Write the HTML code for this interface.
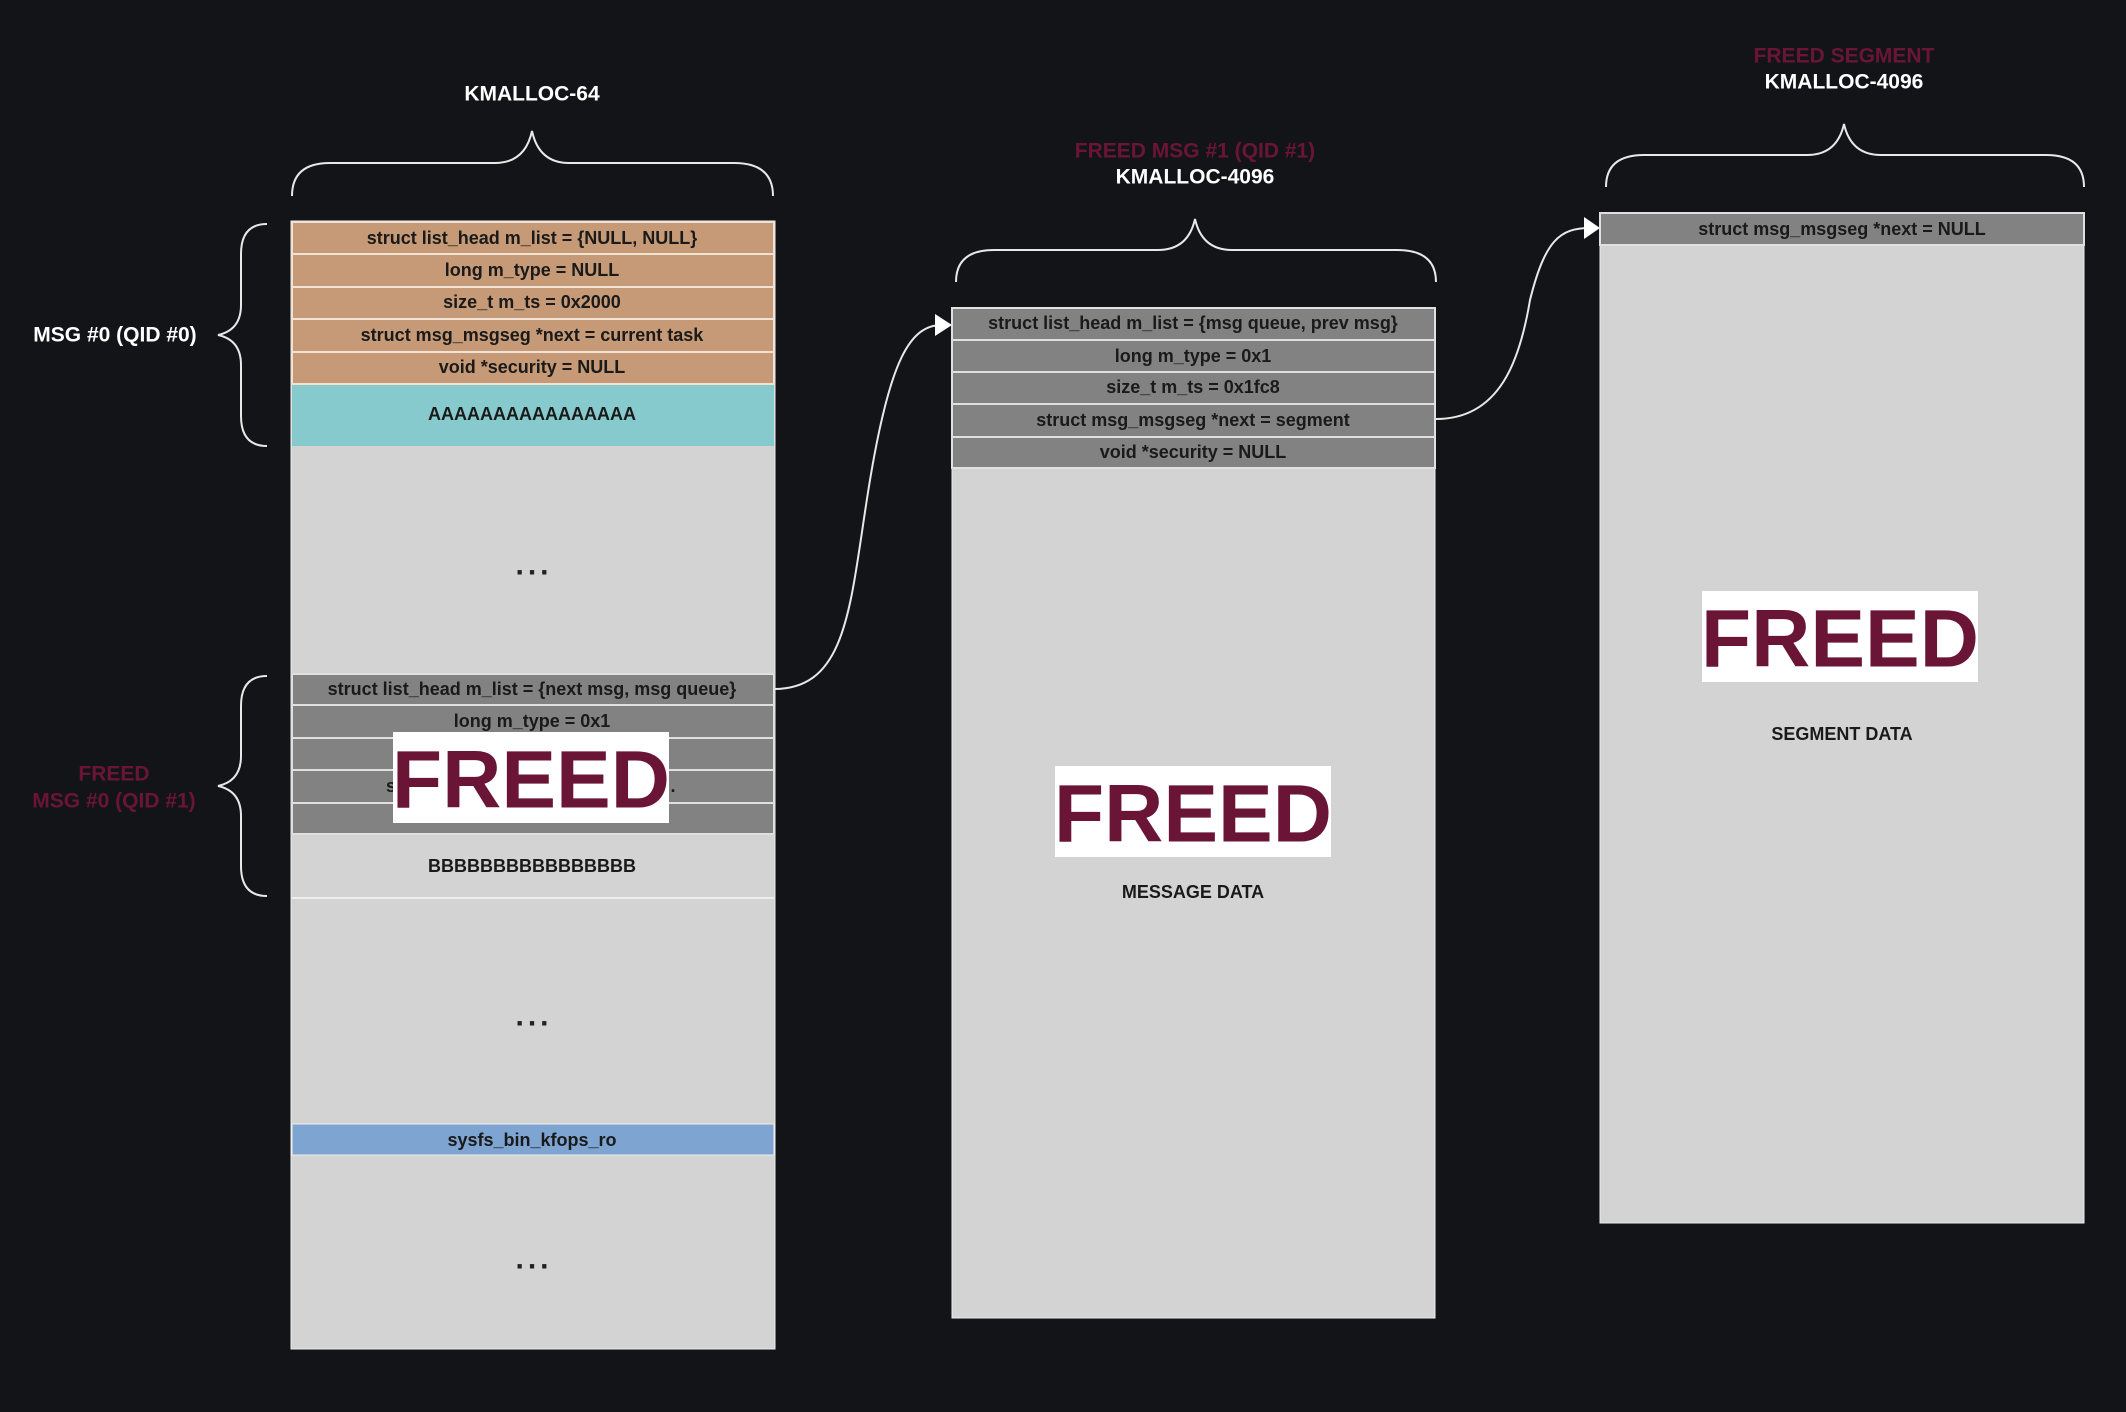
<!DOCTYPE html>
<html><head><meta charset="utf-8"><style>
html,body{margin:0;padding:0;background:#131418;}
svg{display:block}
text{font-family:"Liberation Sans Narrow","Liberation Sans",sans-serif;font-weight:bold;text-anchor:middle;dominant-baseline:central}
.r{font-size:18px;fill:#1a1a1a}
.h{font-family:"Liberation Sans",sans-serif;font-size:21px;fill:#fff}
.m{font-family:"Liberation Sans",sans-serif;font-size:21px;fill:#6b1536}
.f{font-family:"Liberation Sans",sans-serif;font-size:82px;fill:#6b1536}
.d{font-size:30px;fill:#222;letter-spacing:4px}
</style></head><body>
<svg width="2126" height="1412" viewBox="0 0 2126 1412" xmlns="http://www.w3.org/2000/svg">
<rect width="2126" height="1412" fill="#131418"/>
<g stroke="#e8e8e8" stroke-width="2" fill="none">
<path d="M292,196 Q292,163 330,163 L495,163 Q525,163 532,131 Q539,163 569,163 L734,163 Q773,163 773,196"/>
<path d="M956,282 Q956,250 994,250 L1158,250 Q1188,250 1195,219 Q1202,250 1232,250 L1397,250 Q1436,250 1436,282"/>
<path d="M1606,187 Q1606,155 1644,155 L1807,155 Q1837,155 1844,124 Q1851,155 1881,155 L2046,155 Q2084,155 2084,187"/>
<path d="M267,224 Q241,224 241,254 L241,305 Q241,330 218,335 Q241,340 241,365 L241,416 Q241,446 267,446"/>
<path d="M267,676 Q241,676 241,706 L241,756 Q241,781 218,786 Q241,791 241,816 L241,866 Q241,896 267,896"/>
<path d="M774,689 C850,689 850,600 870,480 C890,360 910,325 942,325"/>
<path d="M1436,419 C1500,419 1520,360 1530,300 C1545,240 1560,228 1590,228"/>
</g>
<polygon points="935,314 952,325 935,336" fill="#fff"/>
<polygon points="1584,217 1600,228 1584,239" fill="#fff"/>

<rect x="291" y="221" width="484" height="1128" fill="#d3d3d3" stroke="#eee" stroke-width="1"/>
<g fill="#c69a76" stroke="#f1e2d6" stroke-width="2">
<rect x="292" y="222" width="482" height="32"/>
<rect x="292" y="254" width="482" height="33"/>
<rect x="292" y="287" width="482" height="32"/>
<rect x="292" y="319" width="482" height="33"/>
<rect x="292" y="352" width="482" height="32"/>
</g>
<rect x="292" y="385" width="482" height="61" fill="#86cacd"/>
<text class="r" x="532" y="238">struct list_head m_list = {NULL, NULL}</text>
<text class="r" x="532" y="270">long m_type = NULL</text>
<text class="r" x="532" y="302">size_t m_ts = 0x2000</text>
<text class="r" x="532" y="335">struct msg_msgseg *next = current task</text>
<text class="r" x="532" y="367">void *security = NULL</text>
<text class="r" x="532" y="414">AAAAAAAAAAAAAAAA</text>
<text class="d" x="534" y="565">...</text>
<g fill="#828282" stroke="#e0e0e0" stroke-width="2">
<rect x="292" y="674" width="482" height="31"/>
<rect x="292" y="705" width="482" height="33"/>
<rect x="292" y="738" width="482" height="32"/>
<rect x="292" y="770" width="482" height="33"/>
<rect x="292" y="803" width="482" height="31"/>
</g>
<line x1="292" y1="898" x2="774" y2="898" stroke="#eee" stroke-width="2"/>
<text class="r" x="532" y="689">struct list_head m_list = {next msg, msg queue}</text>
<text class="r" x="532" y="721">long m_type = 0x1</text>
<text class="r" x="391" y="786">s</text>
<text class="r" x="673" y="786">.</text>
<text class="r" x="532" y="866">BBBBBBBBBBBBBBBB</text>
<rect x="393" y="732" width="276" height="91" fill="#fff"/>
<text class="f" x="531" y="780">FREED</text>
<text class="d" x="534" y="1016">...</text>
<rect x="292" y="1124" width="482" height="31" fill="#7ea4d2" stroke="#eee" stroke-width="1"/>
<text class="r" x="532" y="1140">sysfs_bin_kfops_ro</text>
<text class="d" x="534" y="1259">...</text>

<rect x="952" y="308" width="483" height="1010" fill="#d3d3d3" stroke="#eee" stroke-width="1"/>
<g fill="#828282" stroke="#e0e0e0" stroke-width="2">
<rect x="952" y="308" width="483" height="32"/>
<rect x="952" y="340" width="483" height="32"/>
<rect x="952" y="372" width="483" height="32"/>
<rect x="952" y="404" width="483" height="33"/>
<rect x="952" y="437" width="483" height="31"/>
</g>
<text class="r" x="1193" y="323">struct list_head m_list = {msg queue, prev msg}</text>
<text class="r" x="1193" y="356">long m_type = 0x1</text>
<text class="r" x="1193" y="387">size_t m_ts = 0x1fc8</text>
<text class="r" x="1193" y="420">struct msg_msgseg *next = segment</text>
<text class="r" x="1193" y="452">void *security = NULL</text>
<rect x="1055" y="766" width="276" height="91" fill="#fff"/>
<text class="f" x="1193" y="814">FREED</text>
<text class="r" x="1193" y="892">MESSAGE DATA</text>

<rect x="1600" y="213" width="484" height="1010" fill="#d3d3d3" stroke="#eee" stroke-width="1"/>
<rect x="1600" y="213" width="484" height="32" fill="#828282" stroke="#e0e0e0" stroke-width="2"/>
<text class="r" x="1842" y="229">struct msg_msgseg *next = NULL</text>
<rect x="1702" y="591" width="276" height="91" fill="#fff"/>
<text class="f" x="1840" y="639">FREED</text>
<text class="r" x="1842" y="734">SEGMENT DATA</text>

<text class="h" x="532" y="94">KMALLOC-64</text>
<text class="m" x="1195" y="151">FREED MSG #1 (QID #1)</text>
<text class="h" x="1195" y="177">KMALLOC-4096</text>
<text class="m" x="1844" y="56">FREED SEGMENT</text>
<text class="h" x="1844" y="82">KMALLOC-4096</text>
<text class="h" x="115" y="335">MSG #0 (QID #0)</text>
<text class="m" x="114" y="774">FREED</text>
<text class="m" x="114" y="801">MSG #0 (QID #1)</text>
</svg>
</body></html>
